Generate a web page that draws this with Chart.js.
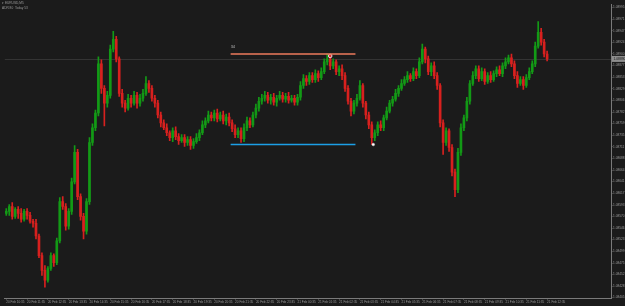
<!DOCTYPE html>
<html>
<head>
<meta charset="utf-8">
<title>EURUSD</title>
<script src="https://cdn.jsdelivr.net/npm/chart.js@4.4.1/dist/chart.umd.min.js"></script>
<style>
  html, body { margin: 0; padding: 0; background: #1b1b1b; }
  #wrap { width: 625px; height: 306px; }
</style>
</head>
<body>
<div id="wrap"><canvas id="priceChart" width="625" height="306"></canvas></div>
<script>
// candles (EURUSD), one per bar
const openPrices = [1.08576,1.08580,1.08590,1.08570,1.08584,1.08576,1.08564,1.08580,1.08572,1.08560,
  1.08556,1.08530,1.08490,1.08460,1.08440,1.08464,1.08490,1.08476,1.08520,1.08600,
  1.08590,1.08550,1.08580,1.08640,1.08700,1.08610,1.08570,1.08540,1.08600,1.08720,
  1.08750,1.08780,1.08880,1.08830,1.08800,1.08816,1.08910,1.08930,1.08890,1.08820,
  1.08800,1.08790,1.08810,1.08800,1.08816,1.08800,1.08810,1.08820,1.08840,1.08830,
  1.08810,1.08800,1.08776,1.08760,1.08750,1.08740,1.08730,1.08744,1.08732,1.08724,
  1.08730,1.08720,1.08726,1.08714,1.08722,1.08730,1.08740,1.08756,1.08764,1.08776,
  1.08770,1.08780,1.08768,1.08776,1.08764,1.08772,1.08760,1.08748,1.08736,1.08744,
  1.08728,1.08750,1.08764,1.08756,1.08776,1.08790,1.08804,1.08810,1.08816,1.08806,
  1.08812,1.08802,1.08810,1.08816,1.08808,1.08814,1.08806,1.08810,1.08802,1.08812,
  1.08836,1.08850,1.08844,1.08856,1.08848,1.08860,1.08852,1.08864,1.08884,1.08890,
  1.08876,1.08884,1.08864,1.08870,1.08856,1.08830,1.08804,1.08784,1.08800,1.08810,
  1.08836,1.08800,1.08776,1.08756,1.08730,1.08740,1.08756,1.08750,1.08770,1.08784,
  1.08800,1.08808,1.08820,1.08830,1.08840,1.08848,1.08856,1.08850,1.08864,1.08856,
  1.08884,1.08910,1.08890,1.08864,1.08876,1.08856,1.08836,1.08760,1.08720,1.08744,
  1.08710,1.08660,1.08624,1.08700,1.08750,1.08770,1.08804,1.08840,1.08856,1.08870,
  1.08850,1.08864,1.08844,1.08856,1.08848,1.08860,1.08868,1.08860,1.08876,1.08884,
  1.08892,1.08880,1.08856,1.08840,1.08848,1.08836,1.08852,1.08864,1.08880,1.08916,
  1.08944,1.08924,1.08900];
const highPrices = [1.08586,1.08594,1.08598,1.08588,1.08590,1.08586,1.08584,1.08586,1.08578,1.08564,
  1.08564,1.08534,1.08496,1.08470,1.08468,1.08496,1.08494,1.08526,1.08608,1.08610,
  1.08596,1.08586,1.08648,1.08714,1.08706,1.08616,1.08576,1.08606,1.08730,1.08758,
  1.08786,1.08894,1.08888,1.08836,1.08824,1.08918,1.08946,1.08936,1.08894,1.08828,
  1.08806,1.08818,1.08816,1.08824,1.08822,1.08818,1.08828,1.08854,1.08846,1.08836,
  1.08816,1.08806,1.08782,1.08766,1.08758,1.08744,1.08750,1.08752,1.08738,1.08736,
  1.08736,1.08732,1.08732,1.08728,1.08738,1.08746,1.08764,1.08770,1.08784,1.08782,
  1.08786,1.08788,1.08782,1.08784,1.08778,1.08780,1.08766,1.08756,1.08750,1.08750,
  1.08758,1.08772,1.08770,1.08782,1.08798,1.08812,1.08818,1.08824,1.08822,1.08818,
  1.08820,1.08816,1.08824,1.08822,1.08820,1.08822,1.08816,1.08816,1.08818,1.08844,
  1.08858,1.08856,1.08862,1.08862,1.08868,1.08866,1.08872,1.08890,1.08900,1.08894,
  1.08890,1.08888,1.08876,1.08878,1.08862,1.08836,1.08810,1.08806,1.08818,1.08846,
  1.08840,1.08804,1.08782,1.08762,1.08746,1.08762,1.08764,1.08776,1.08792,1.08806,
  1.08814,1.08828,1.08836,1.08848,1.08854,1.08864,1.08860,1.08872,1.08870,1.08892,
  1.08920,1.08914,1.08896,1.08882,1.08884,1.08862,1.08840,1.08766,1.08750,1.08748,
  1.08716,1.08666,1.08708,1.08758,1.08776,1.08812,1.08846,1.08864,1.08876,1.08876,
  1.08872,1.08870,1.08862,1.08864,1.08866,1.08874,1.08876,1.08882,1.08892,1.08898,
  1.08900,1.08886,1.08864,1.08854,1.08854,1.08858,1.08872,1.08886,1.08924,1.08966,
  1.08952,1.08930,1.08906];
const lowPrices = [1.08572,1.08572,1.08564,1.08566,1.08566,1.08558,1.08560,1.08564,1.08556,1.08548,
  1.08524,1.08486,1.08450,1.08426,1.08436,1.08460,1.08468,1.08472,1.08516,1.08584,
  1.08542,1.08544,1.08574,1.08636,1.08604,1.08562,1.08524,1.08534,1.08594,1.08714,
  1.08744,1.08774,1.08820,1.08754,1.08792,1.08810,1.08904,1.08884,1.08814,1.08792,
  1.08782,1.08786,1.08792,1.08796,1.08790,1.08794,1.08804,1.08816,1.08822,1.08804,
  1.08792,1.08770,1.08752,1.08746,1.08734,1.08724,1.08722,1.08726,1.08716,1.08720,
  1.08712,1.08714,1.08706,1.08708,1.08718,1.08724,1.08736,1.08750,1.08760,1.08764,
  1.08764,1.08762,1.08764,1.08758,1.08756,1.08754,1.08742,1.08730,1.08730,1.08720,
  1.08722,1.08744,1.08750,1.08752,1.08770,1.08784,1.08798,1.08804,1.08800,1.08798,
  1.08796,1.08794,1.08806,1.08802,1.08802,1.08800,1.08802,1.08796,1.08796,1.08806,
  1.08830,1.08836,1.08838,1.08842,1.08842,1.08844,1.08848,1.08860,1.08878,1.08868,
  1.08870,1.08858,1.08856,1.08848,1.08824,1.08798,1.08774,1.08778,1.08794,1.08806,
  1.08792,1.08768,1.08748,1.08716,1.08724,1.08734,1.08744,1.08744,1.08766,1.08780,
  1.08794,1.08804,1.08814,1.08826,1.08836,1.08842,1.08844,1.08846,1.08850,1.08852,
  1.08880,1.08882,1.08858,1.08856,1.08850,1.08828,1.08752,1.08696,1.08714,1.08702,
  1.08652,1.08610,1.08618,1.08694,1.08744,1.08764,1.08798,1.08836,1.08850,1.08844,
  1.08846,1.08838,1.08840,1.08842,1.08844,1.08854,1.08856,1.08854,1.08870,1.08880,
  1.08874,1.08850,1.08832,1.08836,1.08828,1.08832,1.08848,1.08860,1.08874,1.08912,
  1.08918,1.08894,1.08886];
const closePrices = [1.08580,1.08590,1.08570,1.08584,1.08576,1.08564,1.08580,1.08572,1.08560,1.08556,
  1.08530,1.08490,1.08460,1.08440,1.08464,1.08490,1.08476,1.08520,1.08600,1.08590,
  1.08550,1.08580,1.08640,1.08700,1.08610,1.08570,1.08540,1.08600,1.08720,1.08750,
  1.08780,1.08880,1.08830,1.08800,1.08816,1.08910,1.08930,1.08890,1.08820,1.08800,
  1.08790,1.08810,1.08800,1.08816,1.08800,1.08810,1.08820,1.08840,1.08830,1.08810,
  1.08800,1.08776,1.08760,1.08750,1.08740,1.08730,1.08744,1.08732,1.08724,1.08730,
  1.08720,1.08726,1.08714,1.08722,1.08730,1.08740,1.08756,1.08764,1.08776,1.08770,
  1.08780,1.08768,1.08776,1.08764,1.08772,1.08760,1.08748,1.08736,1.08744,1.08728,
  1.08750,1.08764,1.08756,1.08776,1.08790,1.08804,1.08810,1.08816,1.08806,1.08812,
  1.08802,1.08810,1.08816,1.08808,1.08814,1.08806,1.08810,1.08802,1.08812,1.08836,
  1.08850,1.08844,1.08856,1.08848,1.08860,1.08852,1.08864,1.08884,1.08890,1.08876,
  1.08884,1.08864,1.08870,1.08856,1.08830,1.08804,1.08784,1.08800,1.08810,1.08836,
  1.08800,1.08776,1.08756,1.08730,1.08740,1.08756,1.08750,1.08770,1.08784,1.08800,
  1.08808,1.08820,1.08830,1.08840,1.08848,1.08856,1.08850,1.08864,1.08856,1.08884,
  1.08910,1.08890,1.08864,1.08876,1.08856,1.08836,1.08760,1.08720,1.08744,1.08710,
  1.08660,1.08624,1.08700,1.08750,1.08770,1.08804,1.08840,1.08856,1.08870,1.08850,
  1.08864,1.08844,1.08856,1.08848,1.08860,1.08868,1.08860,1.08876,1.08884,1.08892,
  1.08880,1.08856,1.08840,1.08848,1.08836,1.08852,1.08864,1.08880,1.08916,1.08944,
  1.08924,1.08900,1.08890];

// axes
const yTickValues = [1.08995,1.08971,1.08947,1.08924,1.08900,1.08877,1.08853,1.08829,1.08806,1.08782,
  1.08759,1.08735,1.08711,1.08688,1.08664,1.08641,1.08617,1.08593,1.08570,1.08546,
  1.08523,1.08499,1.08475,1.08452,1.08428,1.08405];
const xTickLabels = ["20 Feb 10:35","20 Feb 11:35","20 Feb 12:35","20 Feb 13:35","20 Feb 14:35",
  "20 Feb 15:35","20 Feb 16:35","20 Feb 17:35","20 Feb 18:35","20 Feb 19:35","20 Feb 20:35",
  "20 Feb 21:35","20 Feb 22:35","20 Feb 23:35","21 Feb 00:35","21 Feb 01:35","21 Feb 02:35",
  "21 Feb 03:35","21 Feb 04:35","21 Feb 05:35","21 Feb 06:35","21 Feb 07:35","21 Feb 08:35",
  "21 Feb 09:35","21 Feb 10:35","21 Feb 11:35","21 Feb 12:35"];
const barsPerLabel = 7;
const totalSlots = 204;  // includes the empty shift on the right
const priceMin = 1.08404;
const priceMax = 1.09000;

// 34 bar range lines
const rangeStartBar = 75.5;
const rangeEndBar = 117.5;
const rangeHigh = 1.08900;
const rangeLow = 1.08716;
const rangeLabel = "34";
const swingHigh = [{ x: 109, y: 1.08896 }];
const swingLow = [{ x: 123.5, y: 1.08716 }];

const UP = '#139a16';
const DOWN = '#d8211f';
const TEXT = '#9a9a9a';
const FONT = 'Liberation Sans, Arial, sans-serif';

const barColors = closePrices.map((c, i) => c >= openPrices[i] ? UP : DOWN);

const chartDecor = {
    id: 'chartDecor',
    beforeDraw(chart) {
        const ctx = chart.ctx;
        ctx.save();
        ctx.fillStyle = '#1b1b1b';
        ctx.fillRect(0, 0, chart.width, chart.height);
        ctx.restore();
    },
    beforeDatasetsDraw(chart) {
        // bid line
        const ctx = chart.ctx;
        const area = chart.chartArea;
        const y = Math.round(chart.scales.y.getPixelForValue(closePrices[closePrices.length - 1])) + 0.5;
        ctx.save();
        ctx.strokeStyle = '#343434';
        ctx.lineWidth = 1;
        ctx.beginPath();
        ctx.moveTo(area.left, y);
        ctx.lineTo(area.right, y);
        ctx.stroke();
        ctx.restore();
    },
    afterDraw(chart) {
        const ctx = chart.ctx;
        const area = chart.chartArea;
        const last = closePrices[closePrices.length - 1];
        const y = chart.scales.y.getPixelForValue(last);
        ctx.save();
        // bid box on the price scale
        ctx.fillStyle = '#8e8e8e';
        ctx.fillRect(area.right + 1, y - 3, chart.width - area.right - 1, 6);
        ctx.fillStyle = '#151515';
        ctx.font = '3.3px ' + FONT;
        ctx.textBaseline = 'middle';
        ctx.fillText(last.toFixed(5), area.right + 2.5, y);

        // header
        ctx.fillStyle = TEXT;
        ctx.font = '3.2px ' + FONT;
        ctx.textBaseline = 'top';
        ctx.fillText('\u25BE EURUSD,M5', 2, 2);
        ctx.fillText('ADR 80  Today 53', 2, 6.5);

        // range label
        const lx = chart.scales.x.getPixelForValue(rangeStartBar);
        const ly = chart.scales.y.getPixelForValue(rangeHigh);
        ctx.fillStyle = '#b8b8b8';
        ctx.font = '4px ' + FONT;
        ctx.textBaseline = 'bottom';
        ctx.fillText(rangeLabel, lx, ly - 5);
        ctx.restore();
    }
};

new Chart(document.getElementById('priceChart'), {
    type: 'bar',
    data: {
        datasets: [
            {
                type: 'line',
                data: [{ x: rangeStartBar, y: rangeHigh }, { x: rangeEndBar, y: rangeHigh }],
                borderColor: '#ee7b5c',
                borderWidth: 1.3,
                pointRadius: 0
            },
            {
                type: 'line',
                data: [{ x: rangeStartBar, y: rangeLow }, { x: rangeEndBar, y: rangeLow }],
                borderColor: '#1c9fe6',
                borderWidth: 1.3,
                pointRadius: 0
            },
            {
                type: 'line',
                data: swingHigh,
                showLine: false,
                pointRadius: 1.8,
                pointBackgroundColor: '#e03030',
                pointBorderColor: '#ffffff',
                pointBorderWidth: 0.8
            },
            {
                type: 'line',
                data: swingLow,
                showLine: false,
                pointRadius: 1.3,
                pointBackgroundColor: '#ffffff',
                pointBorderColor: '#dddddd',
                pointBorderWidth: 0.5
            },
            {
                // wicks
                data: closePrices.map((c, i) => ({ x: i, y: [lowPrices[i], highPrices[i]] })),
                backgroundColor: barColors,
                barThickness: 1,
                grouped: false,
                borderWidth: 0
            },
            {
                // bodies
                data: closePrices.map((c, i) => ({ x: i, y: [openPrices[i], c] })),
                backgroundColor: barColors,
                barThickness: 2,
                minBarLength: 1,
                grouped: false,
                borderWidth: 0
            }
        ]
    },
    options: {
        responsive: false,
        animation: false,
        devicePixelRatio: 1,
        layout: { padding: 0 },
        plugins: {
            legend: { display: false },
            tooltip: { enabled: false }
        },
        scales: {
            x: {
                type: 'linear',
                offset: false,
                min: -0.5,
                max: totalSlots - 0.5,
                afterBuildTicks: scale => {
                    scale.ticks = xTickLabels.map((_, k) => ({ value: k * barsPerLabel }));
                },
                afterFit: scale => {
                    scale.height = 8;
                    scale.paddingLeft = 0;
                    scale.paddingRight = 0;
                },
                grid: { display: true, offset: false, drawOnChartArea: false, drawTicks: true, tickLength: 1.5, color: '#6e6e6e' },
                border: { display: true, color: '#7a7a7a', width: 1 },
                ticks: {
                    autoSkip: false,
                    maxRotation: 0,
                    align: 'start',
                    padding: 0.3,
                    color: TEXT,
                    font: { size: 3.1, family: FONT },
                    callback: (value, index) => xTickLabels[index]
                }
            },
            y: {
                position: 'right',
                min: priceMin,
                max: priceMax,
                afterBuildTicks: scale => {
                    scale.ticks = yTickValues.map(v => ({ value: v }));
                },
                afterFit: scale => {
                    scale.width = 14;
                    scale.paddingTop = 0;
                    scale.paddingBottom = 0;
                },
                grid: { display: true, drawOnChartArea: false, drawTicks: true, tickLength: 1.5, color: '#6e6e6e' },
                border: { display: true, color: '#7a7a7a', width: 1 },
                ticks: {
                    autoSkip: false,
                    padding: 0.5,
                    color: TEXT,
                    font: { size: 3.2, family: FONT },
                    callback: v => v.toFixed(5)
                }
            }
        }
    },
    plugins: [chartDecor]
});
</script>
</body>
</html>
